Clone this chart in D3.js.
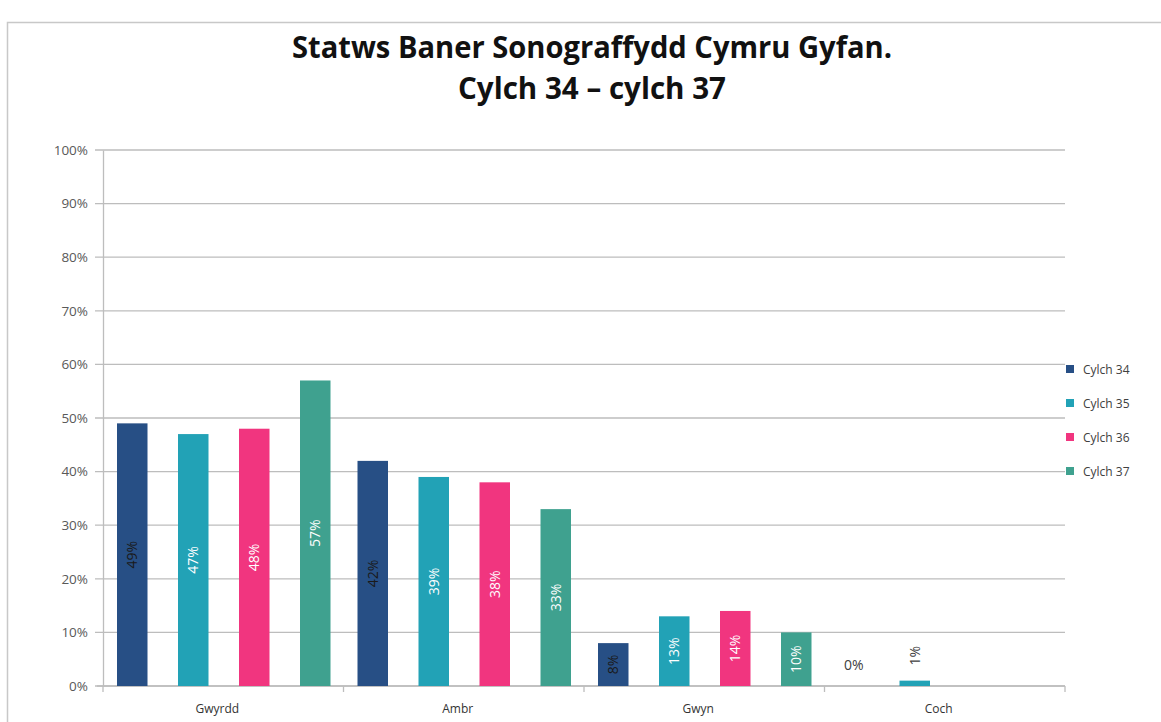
<!DOCTYPE html>
<html>
<head>
<meta charset="utf-8">
<script src="https://cdn.jsdelivr.net/npm/d3@7"></script>
<style>
  body { margin: 0; background: #fff; }
  svg { display: block; font-family: "Open Sans", "Noto Sans", sans-serif; }
</style>
</head>
<body>
<svg id="chart" width="1161" height="722"></svg>
<script>
const categories = ["Gwyrdd", "Ambr", "Gwyn", "Coch"];
const series = ["Cylch 34", "Cylch 35", "Cylch 36", "Cylch 37"];
const colours = ["#274f85", "#22a2b6", "#f1357f", "#3fa18f"];
// values in %, one array per series (null = no bar)
const cylch34 = [49, 42, 8, 0];
const cylch35 = [47, 39, 13, 1];
const cylch36 = [48, 38, 14, null];
const cylch37 = [57, 33, 10, null];
const yTicks = [0, 10, 20, 30, 40, 50, 60, 70, 80, 90, 100];
const titleLines = ["Statws Baner Sonograffydd Cymru Gyfan.", "Cylch 34 \u2013 cylch 37"];

const values = [cylch34, cylch35, cylch36, cylch37];
// dark label text on these bars, white on the rest
const darkLabel = (s, v) => s === 0 || v < 1.5;

const svg = d3.select("#chart");
const margin = { left: 103, right: 1065, top: 150, bottom: 686 };

// outer frame
svg.append("rect")
  .attr("x", 7.5).attr("y", 22.5)
  .attr("width", 1170).attr("height", 720)
  .attr("fill", "none").attr("stroke", "#c8c8c8").attr("stroke-width", 1.5);

// title
titleLines.forEach((t, i) => {
  svg.append("text")
    .attr("x", 592).attr("y", 58 + i * 41)
    .attr("text-anchor", "middle")
    .attr("font-family", "'Liberation Sans Narrow', 'Open Sans', sans-serif")
    .attr("font-size", 30).attr("font-weight", 700)
    .attr("fill", "#111")
    .attr("textLength", i === 0 ? 600 : 268)
    .attr("lengthAdjust", "spacingAndGlyphs")
    .text(t);
});

const x0 = d3.scaleBand().domain(categories).range([margin.left, margin.right]);
const x1 = d3.scaleBand().domain(series).range([14, 227.5]).paddingInner(0.5);
const y = d3.scaleLinear().domain([0, 100]).range([margin.bottom, margin.top]);

// grid
svg.append("g")
  .selectAll("line")
  .data(yTicks)
  .join("line")
  .attr("x1", margin.left - 8).attr("x2", margin.right)
  .attr("y1", (d) => y(d)).attr("y2", (d) => y(d))
  .attr("stroke", "#bdbdbd").attr("stroke-width", 1.3);

// y axis
const yAxis = svg.append("g")
  .attr("transform", `translate(${margin.left},0)`)
  .call(d3.axisLeft(y).tickValues(yTicks).tickSize(0).tickPadding(15).tickFormat((d) => d + "%"));
yAxis.select(".domain").attr("stroke", "#bdbdbd").attr("stroke-width", 1.3);
yAxis.selectAll("text").attr("font-size", 13.5).attr("fill", "#595959").attr("font-family", "Open Sans, sans-serif");

// x axis
const xAxis = svg.append("g")
  .attr("transform", `translate(0,${margin.bottom})`);
xAxis.append("line")
  .attr("x1", margin.left - 6).attr("x2", margin.right)
  .attr("stroke", "#bdbdbd").attr("stroke-width", 1.3);
xAxis.selectAll("line.tick")
  .data(categories.map((c) => x0(c)).concat([margin.right]))
  .join("line")
  .attr("class", "tick")
  .attr("x1", (d) => d).attr("x2", (d) => d)
  .attr("y1", 0).attr("y2", 6)
  .attr("stroke", "#bdbdbd").attr("stroke-width", 1.3);
xAxis.selectAll("text")
  .data(categories)
  .join("text")
  .attr("x", (d) => x0(d) + x0.bandwidth() / 2 - 6)
  .attr("y", 27)
  .attr("text-anchor", "middle")
  .attr("font-size", 12).attr("fill", "#333")
  .text((d) => d);

// bars
const rows = [];
categories.forEach((c, ci) => {
  series.forEach((s, si) => {
    const v = values[si][ci];
    if (v !== null) rows.push({ c, s, si, v });
  });
});

svg.append("g")
  .selectAll("rect")
  .data(rows.filter((d) => d.v > 0))
  .join("rect")
  .attr("x", (d) => x0(d.c) + x1(d.s))
  .attr("y", (d) => y(d.v))
  .attr("width", x1.bandwidth())
  .attr("height", (d) => y(0) - y(d.v))
  .attr("fill", (d) => colours[d.si]);

// labels
const labels = svg.append("g").attr("font-size", 14);
rows.forEach((d) => {
  const cx = x0(d.c) + x1(d.s) + x1.bandwidth() / 2;
  if (d.v === 0) {
    labels.append("text")
      .attr("x", cx).attr("y", y(0) - 16)
      .attr("text-anchor", "middle")
      .attr("fill", "#404040")
      .text(d.v + "%");
  } else if (d.v < 3) {
    labels.append("text")
      .attr("transform", `translate(${cx + 5},${y(d.v) - 25}) rotate(-90)`)
      .attr("text-anchor", "middle")
      .attr("fill", "#404040")
      .text(d.v + "%");
  } else {
    const cy = (y(d.v) + y(0)) / 2;
    labels.append("text")
      .attr("transform", `translate(${cx + 5},${cy}) rotate(-90)`)
      .attr("text-anchor", "middle")
      .attr("fill", darkLabel(d.si, d.v) ? "#1a1a1a" : "#fff")
      .text(d.v + "%");
  }
});

// legend
const legend = svg.append("g");
series.forEach((s, i) => {
  const ly = 369 + i * 34;
  legend.append("rect")
    .attr("x", 1066).attr("y", ly - 4)
    .attr("width", 8).attr("height", 8)
    .attr("fill", colours[i]);
  legend.append("text")
    .attr("x", 1083).attr("y", ly + 4.5)
    .attr("font-size", 12).attr("fill", "#404040")
    .text(s);
});
</script>
</body>
</html>
